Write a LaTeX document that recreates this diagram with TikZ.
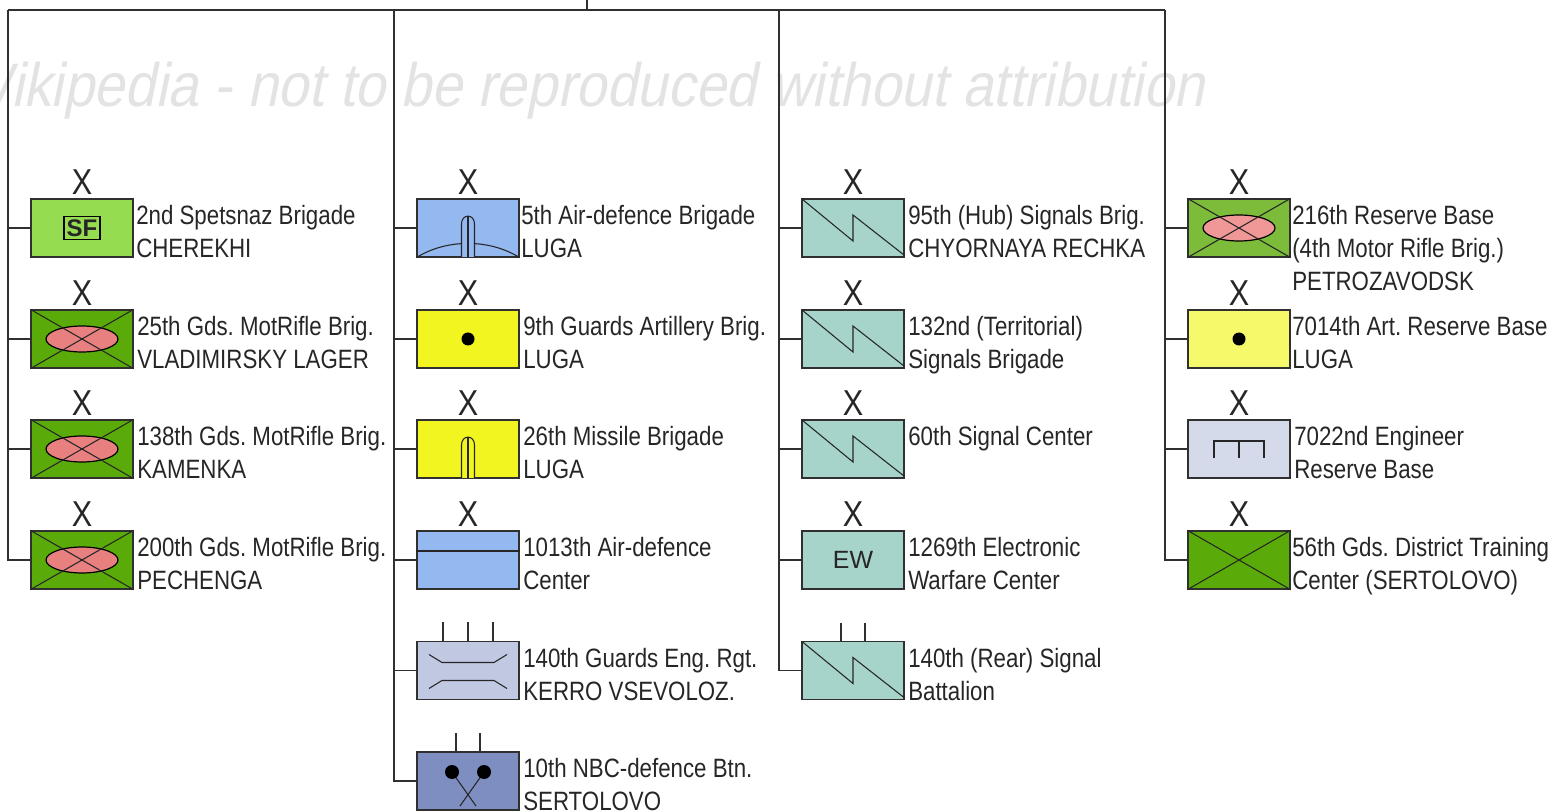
\documentclass[tikz,border=0pt]{standalone}
\usepackage{fontspec}
\usetikzlibrary{shapes.geometric}
\setmainfont{Liberation Sans}
\newfontfamily\lab[FakeStretch=0.84]{Liberation Sans}
\newfontfamily\wmk[FakeStretch=0.90,FakeSlant=0.2]{Liberation Sans}
\newfontfamily\xfnt[FakeStretch=0.85]{Liberation Sans}
\definecolor{ink}{HTML}{303030}
\definecolor{cGreen}{HTML}{5AAB0A}
\definecolor{cSF}{HTML}{96DC50}
\definecolor{cRes}{HTML}{7DBB3A}
\definecolor{cPink}{HTML}{E88080}
\definecolor{cPinkL}{HTML}{F09898}
\definecolor{cBlue}{HTML}{94B8F0}
\definecolor{cYel}{HTML}{F2F520}
\definecolor{cYelL}{HTML}{F5F96A}
\definecolor{cTeal}{HTML}{A6D3CA}
\definecolor{cEng}{HTML}{C0C8E2}
\definecolor{cNBC}{HTML}{7F8EC0}
\definecolor{cEngL}{HTML}{D5DAEA}
\tikzset{
  x=0.75pt,y=-0.75pt,
  unitbox/.style={draw=ink,line width=1pt,minimum width=76.5pt,minimum height=43.5pt,inner sep=0pt,rectangle},
  link/.style={draw=ink,line width=1pt},
  sym/.style={draw=black!85,line width=0.8pt},
  lbl/.style={inner sep=0pt,anchor=north west,align=left,text=black!85,font=\frenchspacing\lab\fontsize{19.9}{24.75}\selectfont},
  xmark/.style={inner sep=0pt,text=black!85,font=\xfnt\fontsize{27}{27}\selectfont},
  pinkoval/.style={shape=ellipse,draw=black,line width=0.9pt,minimum width=54pt,minimum height=19.5pt,inner sep=0pt},
  tick/.style={draw=ink,line width=1pt}
}
\newcommand{\unitat}[4]{\node[unitbox,fill=#4] (#1) at (#2,#3) {};}
\newcommand{\xabove}[1]{\node[xmark] (x#1) at ([shift={(0,-46)}]#1.center) {X};}
\newcommand{\crossbox}[1]{\draw[sym] (#1.north west) -- (#1.south east) (#1.north east) -- (#1.south west);}
\newcommand{\txt}[4]{\node[lbl] (#1) at (#2,#3) {#4};}
\newcommand{\missile}[1]{\begin{scope}[shift={(#1.center)}]
  \draw[sym,fill=#1col] (-6.5,29) -- (-6.5,-4) .. controls (-6.5,-14.5) and (6.5,-14.5) .. (6.5,-4) -- (6.5,29);
  \draw[sym] (0,-11.5) -- (0,29);
\end{scope}}
\newcommand{\signal}[1]{\begin{scope}[shift={(#1.center)}]
  \draw[sym] (-51,-29) -- (0,13) -- (0,-13) -- (51,27);
\end{scope}}
\newcommand{\dotsym}[1]{\fill[black] (#1.center) circle[radius=6.5];}
\begin{document}
\begin{tikzpicture}
\useasboundingbox (0,0) rectangle (1553,812);
\begin{scope}
\clip (0,0) rectangle (1553,812);
\node[inner sep=0pt,anchor=base east,text=black!11,font=\frenchspacing\wmk\fontsize{46}{46}\selectfont] (wm) at (1205,107) {Wikipedia - not to be reproduced without attribution};
\end{scope}
% frame coordinates
\coordinate (stem) at (587,0);
\coordinate (t1) at (8,10);
\coordinate (t2) at (394,10);
\coordinate (t3) at (779,10);
\coordinate (t4) at (1165,10);
% column 1
\unitat{a}{82}{228}{cSF}
\unitat{b}{82}{339}{cGreen}
\unitat{c}{82}{449}{cGreen}
\unitat{d}{82}{560}{cGreen}
% column 2
\unitat{e}{468}{228}{cBlue}
\unitat{f}{468}{339}{cYel}
\unitat{g}{468}{449}{cYel}
\unitat{h}{468}{560}{cBlue}
\unitat{i}{468}{670.5}{cEng}
\unitat{j}{468}{781}{cNBC}
% column 3
\unitat{k}{853}{228}{cTeal}
\unitat{l}{853}{339}{cTeal}
\unitat{m}{853}{449}{cTeal}
\unitat{n}{853}{560}{cTeal}
\unitat{o}{853}{670.5}{cTeal}
% column 4
\unitat{p}{1239}{228}{cRes}
\unitat{q}{1239}{339}{cYelL}
\unitat{r}{1239}{449}{cEngL}
\unitat{s}{1239}{560}{cGreen}
% connectors
\draw[link] (stem) -- (stem |- t1);
\draw[link] (t1) -- (t4);
\draw[link] (t1) |- (d.west);
\draw[link] (t2) |- (j.west);
\draw[link] (t3) |- (o.west);
\draw[link] (t4) |- (s.west);
\foreach \u in {a,b,c} \draw[link] (t1 |- \u.west) -- (\u.west);
\foreach \u in {e,f,g,h,i} \draw[link] (t2 |- \u.west) -- (\u.west);
\foreach \u in {k,l,m,n} \draw[link] (t3 |- \u.west) -- (\u.west);
\foreach \u in {p,q,r} \draw[link] (t4 |- \u.west) -- (\u.west);
% echelon marks
\foreach \u in {a,b,c,d,e,f,g,h,k,l,m,n,p,q,r,s} {\xabove{\u}}
% symbols
\node[draw=black,line width=0.9pt,minimum width=27pt,minimum height=17pt,inner sep=0pt,font=\bfseries\fontsize{18}{18}\selectfont,text=black!85] (sf) at (a.center) {SF};
\foreach \u in {b,c,d} {
  \node[pinkoval,fill=cPink] (ov\u) at (\u.center) {};
  \crossbox{\u}
}
\node[pinkoval,fill=cPinkL] (ovp) at (p.center) {};
\crossbox{p}
\crossbox{s}
\draw[sym] (e.south west) .. controls ([shift={(30,-19)}]e.south west) and ([shift={(-30,-19)}]e.south east) .. (e.south east);
\colorlet{ecol}{cBlue}\colorlet{gcol}{cYel}
\missile{e}
\missile{g}
\dotsym{f}
\dotsym{q}
\draw[sym] (h.west |- 0,551) -- (h.east |- 0,551);
\foreach \u in {k,l,m,o} {\signal{\u}}
\node[inner sep=0pt,font=\fontsize{18.7}{18.7}\selectfont,text=black!85] (ew) at (n.center) {EW};
% engineer regiment
\begin{scope}[shift={(i.center)}]
\draw[sym] (-39,-16) -- (-26,-8) -- (26,-8) -- (39,-16);
\draw[sym] (-39,18) -- (-26,10) -- (26,10) -- (39,18);
\end{scope}
\foreach \d in {-25,0,25} \draw[tick] ([xshift=\d*0.75pt]i.north) -- ++(0,-19);
% NBC
\begin{scope}[shift={(j.center)}]
\draw[sym] (-16,-9) -- (8,25);
\draw[sym] (16,-9) -- (-8,25);
\fill[black] (-16,-9) circle[radius=7];
\fill[black] (16,-9) circle[radius=7];
\end{scope}
\foreach \d in {-12,12} \draw[tick] ([xshift=\d*0.75pt]j.north) -- ++(0,-18);
\foreach \d in {-12,12} \draw[tick] ([xshift=\d*0.75pt]o.north) -- ++(0,-18);
% combs
\begin{scope}[shift={(r.center)}]
\draw[sym] (-25,9) -- (-25,-8) -- (25,-8) -- (25,9);
\draw[sym] (0,-8) -- (0,9);
\end{scope}
% labels
\txt{la}{136}{205.5}{2nd Spetsnaz Brigade\\CHEREKHI}
\txt{lb}{137}{316.5}{25th Gds. MotRifle Brig.\\VLADIMIRSKY LAGER}
\txt{lc}{137}{426.5}{138th Gds. MotRifle Brig.\\KAMENKA}
\txt{ld}{137}{537.5}{200th Gds. MotRifle Brig.\\PECHENGA}
\txt{le}{521}{205.5}{5th Air-defence Brigade\\LUGA}
\txt{lf}{523}{316.5}{9th Guards Artillery Brig.\\LUGA}
\txt{lg}{523}{426.5}{26th Missile Brigade\\LUGA}
\txt{lh}{523}{537.5}{1013th Air-defence\\Center}
\txt{li}{523}{648.5}{140th Guards Eng. Rgt.\\KERRO VSEVOLOZ.}
\txt{lj}{523}{758.5}{10th NBC-defence Btn.\\SERTOLOVO}
\txt{lk}{908}{205.5}{95th (Hub) Signals Brig.\\CHYORNAYA RECHKA}
\txt{ll}{908}{316.5}{132nd (Territorial)\\Signals Brigade}
\txt{lm}{908}{426.5}{60th Signal Center}
\txt{ln}{908}{537.5}{1269th Electronic\\Warfare Center}
\txt{lo}{908}{648.5}{140th (Rear) Signal\\Battalion}
\txt{lp}{1292}{205.5}{216th Reserve Base\\(4th Motor Rifle Brig.)\\PETROZAVODSK}
\txt{lq}{1292}{316.5}{7014th Art. Reserve Base\\LUGA}
\txt{lr}{1294}{426.5}{7022nd Engineer\\Reserve Base}
\txt{ls}{1292}{537.5}{56th Gds. District Training\\Center (SERTOLOVO)}
\end{tikzpicture}
\end{document}
